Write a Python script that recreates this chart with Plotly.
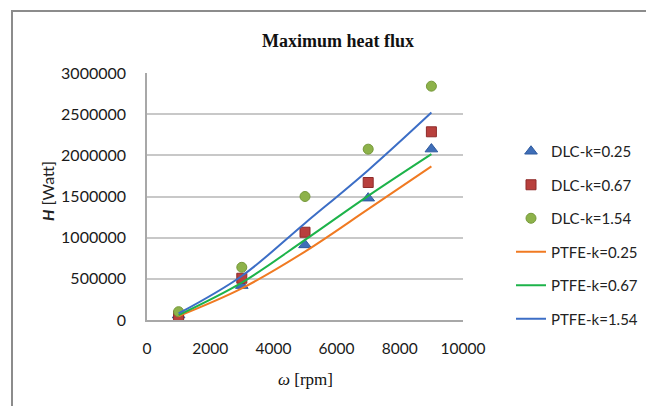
import plotly.graph_objects as go

rpm = [1000, 3000, 5000, 7000, 9000]

dlc_k025 = [60000, 418000, 912000, 1480000, 2076000]
dlc_k067 = [49000, 507000, 1066000, 1670000, 2286000]
dlc_k154 = [101000, 640000, 1500000, 2075000, 2840000]

ptfe_k025 = [49000, 385000, 831000, 1346000, 1865000]
ptfe_k067 = [60000, 454000, 973000, 1508000, 2015000]
ptfe_k154 = [80000, 535000, 1176000, 1820000, 2520000]

x_ticks = [0, 2000, 4000, 6000, 8000, 10000]
y_ticks = [0, 500000, 1000000, 1500000, 2000000, 2500000, 3000000]

SANS = "Lato"
SERIF = "Liberation Serif"

# page body margin offset (the page shifts the figure by this much)
OFF = 8

fig = go.Figure()

fig.add_trace(go.Scatter(x=rpm, y=dlc_k025, mode="markers", name="DLC-k=0.25",
                         legendgroup="a",
                         marker=dict(symbol="triangle-up", size=11, color="#3F6EB8",
                                     line=dict(color="#2E5A9E", width=1))))
fig.add_trace(go.Scatter(x=rpm, y=dlc_k067, mode="markers", name="DLC-k=0.67",
                         legendgroup="b",
                         marker=dict(symbol="square", size=10, color="#B8403D",
                                     line=dict(color="#8E2B2A", width=1))))
fig.add_trace(go.Scatter(x=rpm, y=dlc_k154, mode="markers", name="DLC-k=1.54",
                         legendgroup="c",
                         marker=dict(symbol="circle", size=10, color="#8DB24A",
                                     line=dict(color="#76993A", width=1))))
fig.add_trace(go.Scatter(x=rpm, y=ptfe_k025, mode="lines", name="PTFE-k=0.25",
                         legendgroup="d", line=dict(color="#F07A22", width=2, shape="spline")))
fig.add_trace(go.Scatter(x=rpm, y=ptfe_k067, mode="lines", name="PTFE-k=0.67",
                         legendgroup="e", line=dict(color="#1DB34A", width=2, shape="spline")))
fig.add_trace(go.Scatter(x=rpm, y=ptfe_k154, mode="lines", name="PTFE-k=1.54",
                         legendgroup="f", line=dict(color="#3C6EC6", width=2, shape="spline")))

FW, FH = 654, 406
PL, PR, PT, PB = 147 - OFF, 463 - OFF, 73 - OFF, 320 - OFF
L, R, T, B = PL, FW - PR, PT, FH - PB
W, H = PR - PL, PB - PT

def px(xp):
    return (xp - OFF - PL) / W

def py(yp):
    return (PB - (yp - OFF)) / H

fig.update_layout(
    width=FW, height=FH,
    margin=dict(l=L, r=R, t=T, b=B),
    paper_bgcolor="white", plot_bgcolor="white",
    font=dict(family=SANS, size=16, color="#222"),
    showlegend=True,
    legend=dict(x=px(511), y=py(135), xanchor="left", yanchor="top",
                font=dict(family=SANS, size=15, color="#222"),
                tracegroupgap=11, bgcolor="rgba(0,0,0,0)"),
    xaxis=dict(range=[0, 10000], tickvals=x_ticks, ticktext=[str(v) for v in x_ticks],
               showgrid=False, zeroline=False, showline=True, linecolor="#A8A8A8",
               linewidth=1.5, ticks="", ticklabelstandoff=14,
               tickfont=dict(family=SANS, size=15.5, color="#1a1a1a")),
    yaxis=dict(range=[0, 3000000], tickvals=y_ticks, ticktext=[str(v) for v in y_ticks],
               showgrid=True, gridcolor="#C8C8C8", gridwidth=1.5, zeroline=False,
               showline=True, linecolor="#A8A8A8", linewidth=1.5, ticks="",
               ticklabelstandoff=16,
               tickfont=dict(family=SANS, size=16, color="#1a1a1a")),
    shapes=[dict(type="rect", xref="paper", yref="paper",
                 x0=px(12), x1=px(680), y0=py(430), y1=py(11),
                 line=dict(color="#8C8C8C", width=2), fillcolor="rgba(0,0,0,0)",
                 layer="below")],
    annotations=[
        dict(text="<b>Maximum heat flux</b>", xref="paper", yref="paper",
             x=px(338), y=py(41), showarrow=False, xanchor="center", yanchor="middle",
             font=dict(family=SERIF, size=18, color="#111")),
        dict(text="<i>ω</i> [rpm]", xref="paper", yref="paper",
             x=px(305), y=py(379), showarrow=False, xanchor="center", yanchor="middle",
             font=dict(family=SERIF, size=17, color="#111")),
        dict(text="<b><i>H</i></b> [Watt]", xref="paper", yref="paper",
             x=px(47), y=py(191), showarrow=False, xanchor="center", yanchor="middle",
             textangle=-90, font=dict(family=SANS, size=16, color="#222")),
    ],
)

fig.write_html("out.html")
